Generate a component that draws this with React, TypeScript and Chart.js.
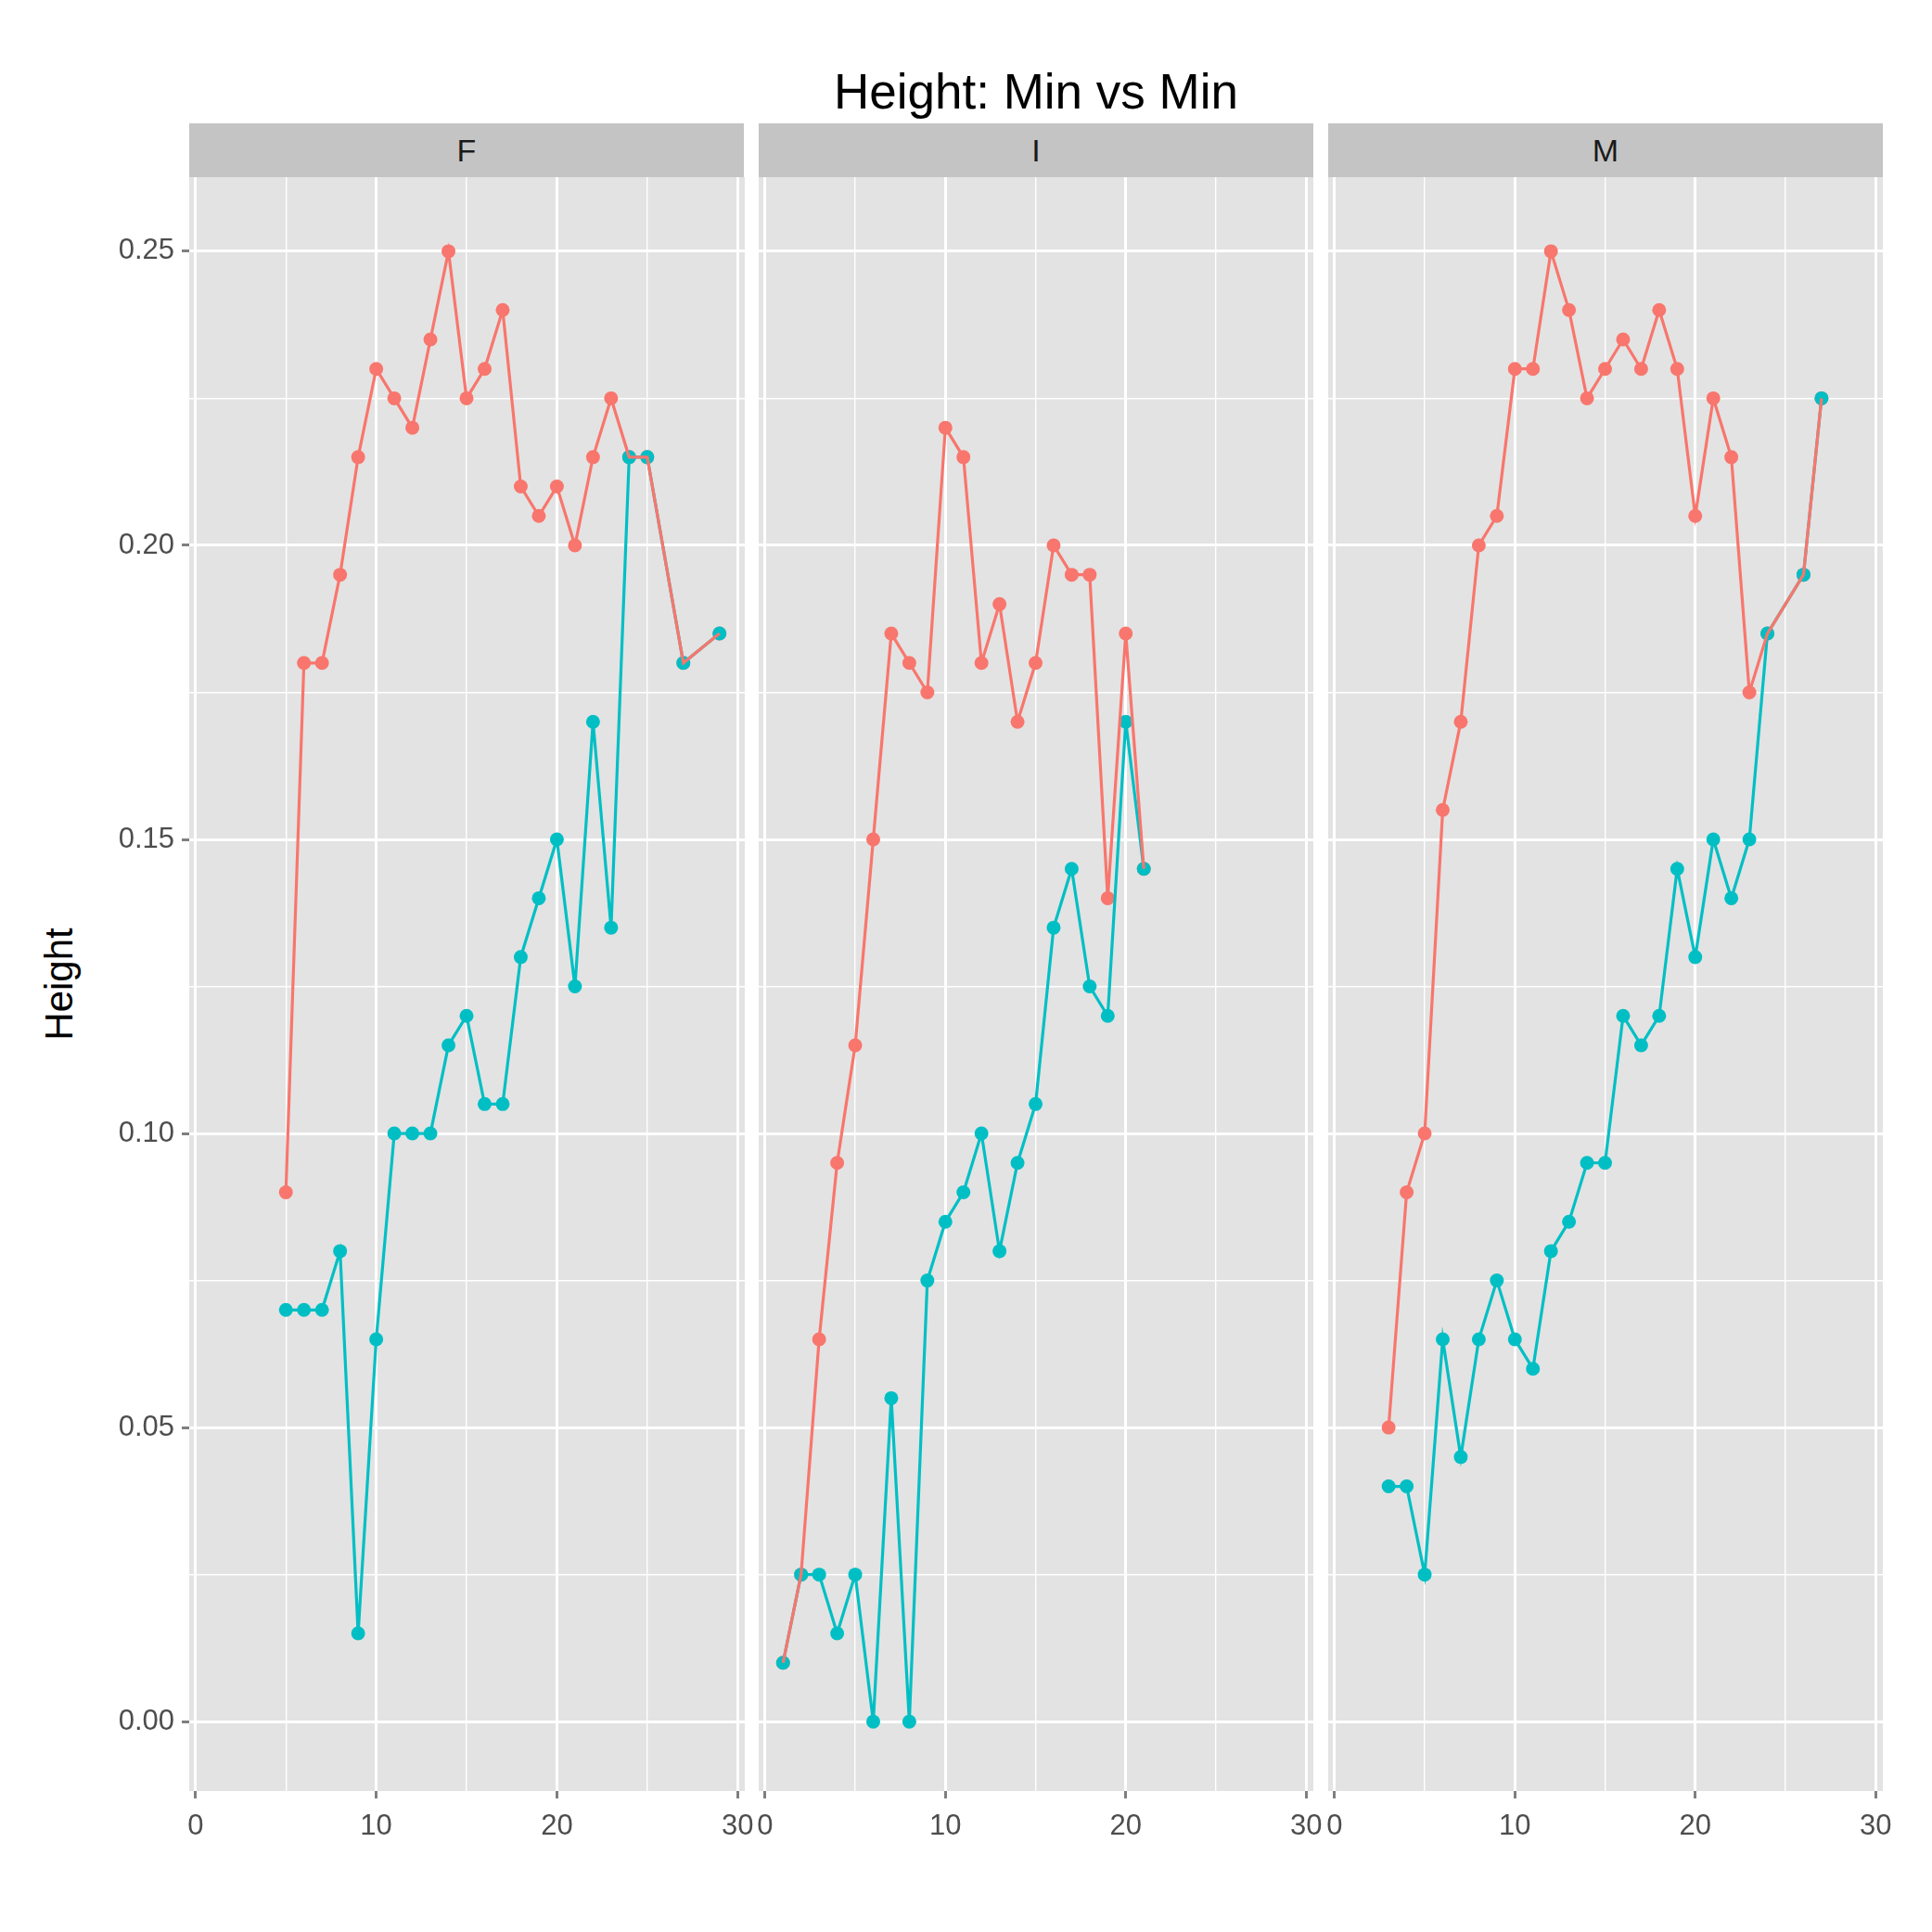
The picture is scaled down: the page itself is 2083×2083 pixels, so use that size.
import React, { useEffect, useRef } from "react";
import { Chart, registerables } from "chart.js";
Chart.register(...registerables);

const panels = ["F", "I", "M"];
const fRedX = [5,6,7,8,9,10,11,12,13,14,15,16,17,18,19,20,21,22,23,24,25,27,29];
const fRedY = [0.09,0.18,0.18,0.195,0.215,0.23,0.225,0.22,0.235,0.25,0.225,0.23,0.24,0.21,0.205,0.21,0.2,0.215,0.225,0.215,0.215,0.18,0.185];
const fTealX = [5,6,7,8,9,10,11,12,13,14,15,16,17,18,19,20,21,22,23,24,25,27,29];
const fTealY = [0.07,0.07,0.07,0.08,0.015,0.065,0.1,0.1,0.1,0.115,0.12,0.105,0.105,0.13,0.14,0.15,0.125,0.17,0.135,0.215,0.215,0.18,0.185];
const iRedX = [1,2,3,4,5,6,7,8,9,10,11,12,13,14,15,16,17,18,19,20,21];
const iRedY = [0.01,0.025,0.065,0.095,0.115,0.15,0.185,0.18,0.175,0.22,0.215,0.18,0.19,0.17,0.18,0.2,0.195,0.195,0.14,0.185,0.145];
const iTealX = [1,2,3,4,5,6,7,8,9,10,11,12,13,14,15,16,17,18,19,20,21];
const iTealY = [0.01,0.025,0.025,0.015,0.025,0.0,0.055,0.0,0.075,0.085,0.09,0.1,0.08,0.095,0.105,0.135,0.145,0.125,0.12,0.17,0.145];
const mRedX = [3,4,5,6,7,8,9,10,11,12,13,14,15,16,17,18,19,20,21,22,23,24,26,27];
const mRedY = [0.05,0.09,0.1,0.155,0.17,0.2,0.205,0.23,0.23,0.25,0.24,0.225,0.23,0.235,0.23,0.24,0.23,0.205,0.225,0.215,0.175,0.185,0.195,0.225];
const mTealX = [3,4,5,6,7,8,9,10,11,12,13,14,15,16,17,18,19,20,21,22,23,24,26,27];
const mTealY = [0.04,0.04,0.025,0.065,0.045,0.065,0.075,0.065,0.06,0.08,0.085,0.095,0.095,0.12,0.115,0.12,0.145,0.13,0.15,0.14,0.15,0.185,0.195,0.225];
const xTicks = [0, 5, 10, 15, 20, 25, 30];
const yTicks = [0, 0.025, 0.05, 0.075, 0.1, 0.125, 0.15, 0.175, 0.2, 0.225, 0.25];

const RED = "#F8766D";
const TEAL = "#00BFC4";
const pts = (xs: number[], ys: number[]) => xs.map((x, i) => ({ x, y: ys[i] }));

const bgPlugin = {
  id: "bg",
  beforeDraw(c: any) {
    const a = c.chartArea;
    c.ctx.save();
    c.ctx.fillStyle = "#E3E3E3";
    c.ctx.fillRect(a.left, a.top, a.right - a.left, a.bottom - a.top);
    c.ctx.restore();
  },
};

const TOPPAD = 40;

function Panel({ idx, red, teal, left, width }: any) {
  const ref = useRef<HTMLCanvasElement>(null);
  useEffect(() => {
    const showY = idx === 0;
    const line = (d: any, col: string) => ({ data: d, borderColor: col, borderWidth: 3.2, pointRadius: 0, showLine: true });
    const dots = (d: any, col: string) => ({ data: d, backgroundColor: col, borderWidth: 0, pointRadius: 7.5, showLine: false });
    const chart = new Chart(ref.current!, {
      type: "scatter",
      data: {
        datasets: [line(red, RED), line(teal, TEAL), dots(teal, TEAL), dots(red, RED)] as any,
      },
      options: {
        animation: false,
        responsive: false,
        layout: { padding: { left: showY ? 0 : 30, right: 40, top: TOPPAD, bottom: 0 } },
        plugins: { legend: { display: false }, tooltip: { enabled: false } },
        scales: {
          x: {
            type: "linear", min: -0.35, max: 30.4,
            afterBuildTicks: (s: any) => { s.ticks = xTicks.map((v) => ({ value: v })); },
            afterFit: (s: any) => { s.height = 152; },
            border: { display: false },
            grid: {
              color: "#FFFFFF",
              lineWidth: (c: any) => (c.tick && c.tick.value % 10 === 0 ? 3 : 1.4),
              tickColor: (c: any) => (c.tick && c.tick.value % 10 === 0 ? "#7f7f7f" : "rgba(0,0,0,0)"),
              tickLength: 8,
            },
            ticks: {
              autoSkip: false, maxRotation: 0, padding: 12, color: "#4D4D4D",
              font: { family: "Liberation Sans, Arial", size: 31 },
              callback: (v: any) => (v % 10 === 0 ? String(v) : ""),
            },
          },
          y: {
            type: "linear", min: -0.0118, max: 0.2626, display: true,
            afterBuildTicks: (s: any) => { s.ticks = yTicks.map((v) => ({ value: v })); },
            afterFit: (s: any) => { s.width = showY ? 204 : 0; },
            border: { display: false },
            grid: {
              color: "#FFFFFF",
              lineWidth: (c: any) => (c.tick && Math.round(c.tick.value * 1000) % 50 === 0 ? 3 : 1.4),
              tickColor: (c: any) => (showY && c.tick && Math.round(c.tick.value * 1000) % 50 === 0 ? "#7f7f7f" : "rgba(0,0,0,0)"),
              tickLength: showY ? 8 : 0,
            },
            ticks: {
              display: showY, autoSkip: false, padding: 8, color: "#4D4D4D",
              font: { family: "Liberation Sans, Arial", size: 31 },
              callback: (v: any) => (Math.round(v * 1000) % 50 === 0 ? Number(v).toFixed(2) : ""),
            },
          },
        },
      },
      plugins: [bgPlugin],
    });
    return () => chart.destroy();
  }, []);
  return (
    <canvas ref={ref} width={width} height={1892 + TOPPAD}
      style={{ position: "absolute", left, top: 191 - TOPPAD, width, height: 1892 + TOPPAD }} />
  );
}

export default function App() {
  const font = "Liberation Sans, Arial, sans-serif";
  const strips = [204, 818, 1432];
  return (
    <div style={{ position: "absolute", left: 0, top: 0, width: 2083, height: 2083, background: "#fff", fontFamily: font }}>
      {strips.map((l, i) => (
        <div key={i} style={{ position: "absolute", left: l, top: 133, width: 598, height: 58, background: "#C4C4C4", color: "#1A1A1A", fontSize: 34, lineHeight: "58px", textAlign: "center" }}>
          {panels[i]}
        </div>
      ))}
      <div style={{ position: "absolute", left: 64 - 120, top: 1061 - 30, width: 240, height: 60, textAlign: "center", fontSize: 42, lineHeight: "60px", transform: "rotate(-90deg)" }}>
        Height
      </div>
      <Panel idx={0} left={0} width={843} red={pts(fRedX, fRedY)} teal={pts(fTealX, fTealY)} />
      <Panel idx={1} left={788} width={668} red={pts(iRedX, iRedY)} teal={pts(iTealX, iTealY)} />
      <Panel idx={2} left={1402} width={668} red={pts(mRedX, mRedY)} teal={pts(mTealX, mTealY)} />
      <div style={{ position: "absolute", left: 204, width: 1826, top: 68, textAlign: "center", fontSize: 53, lineHeight: "62px", color: "#000" }}>
        Height: Min vs Min
      </div>
    </div>
  );
}
